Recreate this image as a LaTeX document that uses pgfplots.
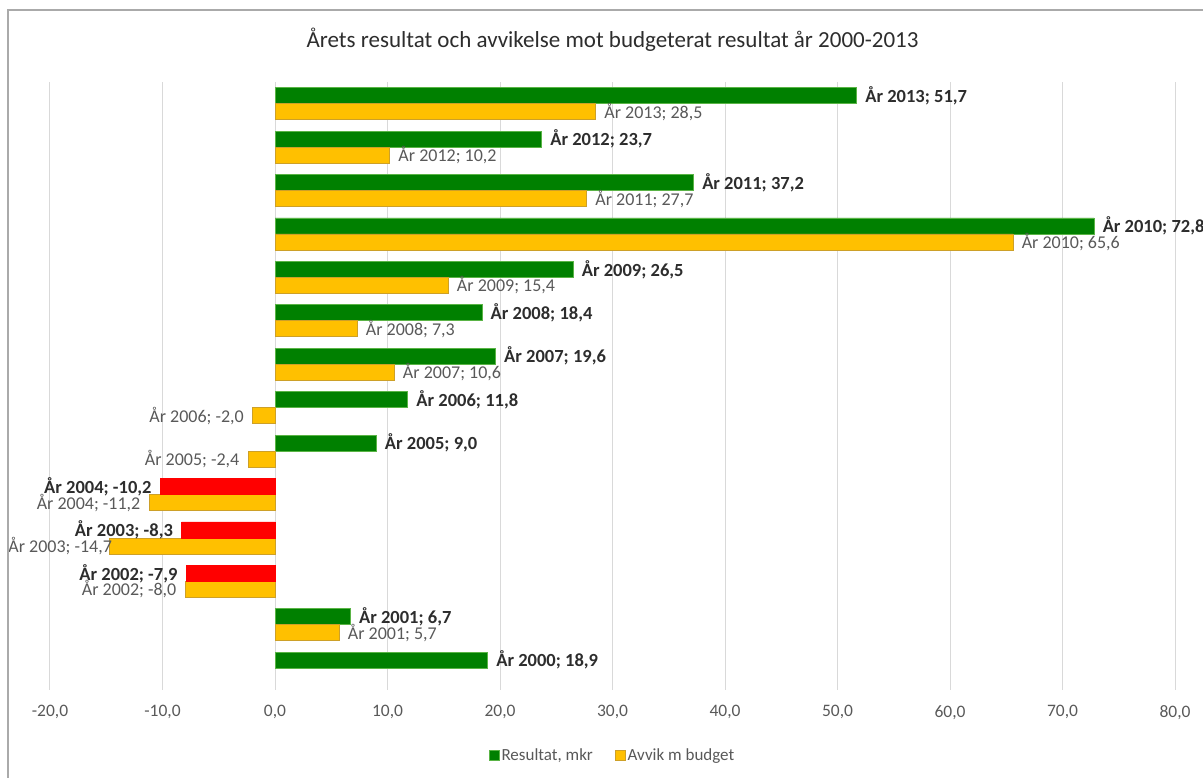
\documentclass[border=0pt]{standalone}
\usepackage{pgfplots}
\pgfplotsset{compat=1.18}
\usepackage{fontspec}
\setmainfont{Carlito}

\definecolor{resgreen}{RGB}{0,128,0}
\definecolor{resgreenedge}{RGB}{90,180,70}
\definecolor{resred}{RGB}{255,0,0}
\definecolor{avvyellow}{RGB}{255,192,0}
\definecolor{avvedge}{RGB}{205,160,40}
\definecolor{gridgray}{RGB}{217,217,217}
\definecolor{txtgray}{RGB}{89,89,89}
\definecolor{txtdark}{RGB}{45,45,45}
\definecolor{framegray}{RGB}{170,170,170}

\begin{document}
\begin{tikzpicture}
\begin{axis}[
    at={(50pt,88pt)}, anchor=south west,
    scale only axis,
    width=1125pt, height=608pt,
    xbar, bar width=16pt,
    xmin=-20, xmax=80,
    ymin=1999.5, ymax=2013.5,
    xtick={-20,-10,...,80},
    ytick=\empty,
    xmajorgrids, grid style={gridgray, line width=1pt},
    axis line style={draw=none},
    major tick length=0pt,
    clip=false,
    /pgf/number format/assume math mode=true,
    xticklabel style={font=\fontsize{17.5}{20}\selectfont, text=txtgray, yshift=-12pt,
      /pgf/number format/.cd, fixed, fixed zerofill, precision=1, use comma},
    title={Årets resultat och avvikelse mot budgeterat resultat år 2000-2013},
    title style={at={(0.5,1)}, anchor=center, yshift=36pt,
      font=\fontsize{23}{26}\selectfont, text=txtdark},
    legend columns=-1,
    legend style={at={(0.5,-0.107)}, anchor=center, draw=none,
      font=\fontsize{17}{20}\selectfont, text=txtgray,
      /tikz/every even column/.append style={column sep=20pt}},
    legend image code/.code={\draw[#1] (0pt,-5pt) rectangle (10pt,5pt);},
    visualization depends on={y \as \yr},
    visualization depends on={x \as \val},
    nodes near coords={År \pgfmathprintnumber[fixed, precision=0, 1000 sep={}]{\yr};
      \pgfmathprintnumber[fixed, fixed zerofill, precision=1, use comma]{\val}},
]
% Resultat, mkr (positive years in green)
\addplot[fill=resgreen, draw=resgreenedge, line width=0.8pt, bar shift=8pt,
  nodes near coords align={anchor=west},
  nodes near coords style={font=\bfseries\fontsize{18.5}{21}\selectfont, text=txtdark, xshift=5pt}]
  coordinates {
  (51.7,2013) (23.7,2012) (37.2,2011) (72.8,2010) (26.5,2009) (18.4,2008)
  (19.6,2007) (11.8,2006) (9.0,2005) (6.7,2001) (18.9,2000)
  };
\addlegendentry{Resultat, mkr}
% Avvik m budget (positive)
\addplot[fill=avvyellow, draw=avvedge, line width=0.8pt, bar shift=-8pt,
  nodes near coords align={anchor=west},
  nodes near coords style={font=\fontsize{18}{21}\selectfont, text=txtgray, xshift=5pt}]
  coordinates {
  (28.5,2013) (10.2,2012) (27.7,2011) (65.6,2010) (15.4,2009) (7.3,2008)
  (10.6,2007) (5.7,2001)
  };
\addlegendentry{Avvik m budget}
% Avvik m budget (negative)
\addplot[fill=avvyellow, draw=avvedge, line width=0.8pt, bar shift=-8pt, forget plot,
  nodes near coords align={anchor=east},
  nodes near coords style={font=\fontsize{18}{21}\selectfont, text=txtgray, xshift=-5pt}]
  coordinates {
  (-2.0,2006) (-2.4,2005) (-11.2,2004) (-8.0,2002)
  };
% 2003: label overlaps its bar end, as in the original
\addplot[fill=avvyellow, draw=avvedge, line width=0.8pt, bar shift=-8pt, forget plot,
  nodes near coords align={anchor=east},
  nodes near coords style={font=\fontsize{18}{21}\selectfont, text=txtgray, xshift=6pt}]
  coordinates {
  (-14.7,2003)
  };
% Resultat, mkr (negative years in red)
\addplot[fill=resred, draw=resred, line width=0.8pt, bar shift=8pt, forget plot,
  nodes near coords align={anchor=east},
  nodes near coords style={font=\bfseries\fontsize{18.5}{21}\selectfont, text=txtdark, xshift=-5pt}]
  coordinates {
  (-10.2,2004) (-8.3,2003) (-7.9,2002)
  };
\end{axis}
\draw[framegray, line width=1.2pt] (8pt,-10pt) rectangle (1240pt,768pt);
\pgfresetboundingbox
\path[use as bounding box] (0pt,0pt) rectangle (1203pt,778pt);
\end{tikzpicture}
\end{document}
